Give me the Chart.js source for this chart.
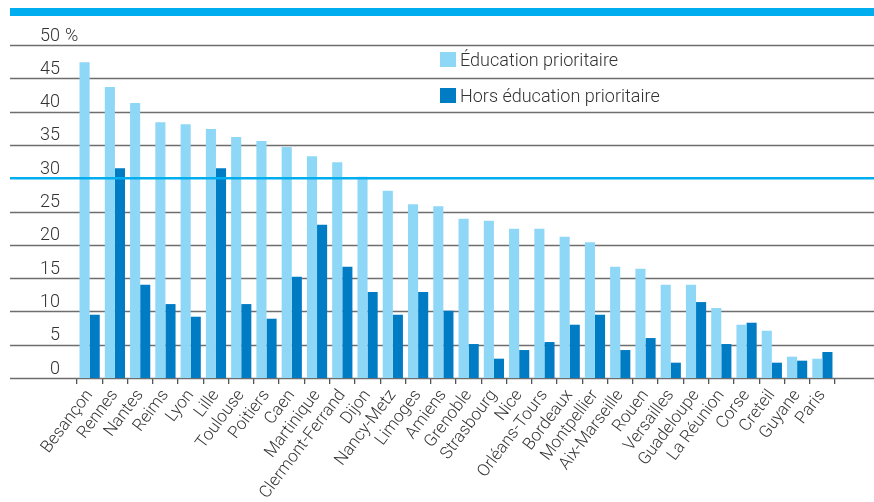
<!DOCTYPE html>
<html>
<head>
<meta charset="utf-8">
<script src="https://cdn.jsdelivr.net/npm/chart.js@4.4.1/dist/chart.umd.min.js"></script>
<style>
    html, body { margin: 0; padding: 0; background: #fff; }
    #wrap { position: relative; width: 874px; height: 502px; }
    #topBar { position: absolute; left: 10px; top: 8px; width: 864px; height: 8px; background: #00aeef; }
    #legend { position: absolute; left: 440px; top: 48px; font-family: Roboto, 'Liberation Sans', sans-serif; font-weight: 300; font-size: 18px; color: #333; }
    #legend div { display: flex; align-items: center; height: 22px; margin-bottom: 14px; }
    #legend span.box { display: inline-block; width: 16px; height: 15px; margin-right: 4px; }
</style>
</head>
<body>
<div id="wrap">
    <canvas id="chart" width="874" height="502"></canvas>
    <div id="topBar"></div>
    <div id="legend"></div>
</div>
<script>
/* Taux par académie : éducation prioritaire / hors éducation prioritaire */

const academies = ['Besançon', 'Rennes', 'Nantes', 'Reims', 'Lyon', 'Lille', 'Toulouse', 'Poitiers', 'Caen',
    'Martinique', 'Clermont-Ferrand', 'Dijon', 'Nancy-Metz', 'Limoges', 'Amiens', 'Grenoble', 'Strasbourg',
    'Nice', 'Orléans-Tours', 'Bordeaux', 'Montpellier', 'Aix-Marseille', 'Rouen', 'Versailles', 'Guadeloupe',
    'La Réunion', 'Corse', 'Creteil', 'Guyane', 'Paris'];

const educPrioritaire = [47.4, 43.7, 41.3, 38.4, 38.1, 37.4, 36.2, 35.6, 34.7, 33.3, 32.4, 30.2, 28.1, 26.1, 25.8,
    23.9, 23.6, 22.4, 22.4, 21.2, 20.4, 16.7, 16.4, 14.0, 14.0, 10.5, 8.0, 7.1, 3.2, 2.9];

const horsEducPrioritaire = [9.5, 31.5, 14.0, 11.1, 9.2, 31.5, 11.1, 8.9, 15.2, 23.0, 16.7, 12.9, 9.5, 12.9, 10.1,
    5.1, 2.9, 4.2, 5.4, 8.0, 9.5, 4.2, 6.0, 2.3, 11.4, 5.1, 8.3, 2.3, 2.6, 3.9];

const seriesNames = ['Éducation prioritaire', 'Hors éducation prioritaire'];
const seriesColors = ['#8ed7f7', '#007cc4'];

const yTicks = [0, 5, 10, 15, 20, 25, 30, 35, 40, 45, 50];
const highlightValue = 30;

const fontFamily = "Roboto, 'Liberation Sans', sans-serif";

// lignes horizontales sur toute la largeur + ligne bleue à 30 + signe %
const fullGrid = {
    id: 'fullGrid',
    beforeDatasetsDraw(chart) {
        const ctx = chart.ctx;
        const y = chart.scales.y;
        ctx.save();
        ctx.strokeStyle = '#6e6e6e';
        ctx.lineWidth = 1.4;
        yTicks.forEach(v => {
            if (v === highlightValue) return;
            const py = Math.round(y.getPixelForValue(v)) + 0.5;
            ctx.beginPath();
            ctx.moveTo(10, py);
            ctx.lineTo(chart.width, py);
            ctx.stroke();
        });
        ctx.restore();
    },
    afterDatasetsDraw(chart) {
        const ctx = chart.ctx;
        const y = chart.scales.y;
        ctx.save();
        const py = y.getPixelForValue(highlightValue);
        ctx.strokeStyle = '#00aeef';
        ctx.lineWidth = 2.5;
        ctx.beginPath();
        ctx.moveTo(10, py);
        ctx.lineTo(chart.width, py);
        ctx.stroke();

        ctx.fillStyle = '#333';
        ctx.font = '300 18px ' + fontFamily;
        ctx.textBaseline = 'middle';
        ctx.textAlign = 'left';
        ctx.fillText('%', 65, y.getPixelForValue(50) - 9);
        ctx.restore();
    }
};

const ctx = document.getElementById('chart').getContext('2d');

new Chart(ctx, {
    type: 'bar',
    data: {
        labels: academies,
        datasets: [{
            label: seriesNames[0],
            data: educPrioritaire,
            backgroundColor: seriesColors[0]
        }, {
            label: seriesNames[1],
            data: horsEducPrioritaire,
            backgroundColor: seriesColors[1]
        }]
    },
    options: {
        responsive: false,
        animation: false,
        layout: { padding: { left: 10, right: 39, top: 45, bottom: 0 } },
        datasets: {
            bar: { categoryPercentage: 0.8, barPercentage: 1.0 }
        },
        plugins: {
            legend: { display: false },
            tooltip: { enabled: false }
        },
        scales: {
            x: {
                afterFit: scale => { scale.height = 124; },
                grid: { offset: true, drawOnChartArea: false, drawTicks: true, tickLength: 6, color: '#555', lineWidth: 1.3 },
                border: { display: false },
                ticks: {
                    minRotation: 53,
                    maxRotation: 53,
                    autoSkip: false,
                    padding: 2,
                    color: '#333',
                    font: { family: fontFamily, size: 17, weight: 300 }
                }
            },
            y: {
                min: 0,
                max: 50,
                afterFit: scale => { scale.width = 67; },
                afterBuildTicks: scale => { scale.ticks = yTicks.map(v => ({ value: v })); },
                grid: { display: false, drawTicks: false },
                border: { display: false },
                ticks: {
                    padding: 17,
                    labelOffset: -9,
                    color: '#333',
                    font: { family: fontFamily, size: 18, weight: 300 }
                }
            }
        }
    },
    plugins: [fullGrid]
});

// légende HTML
const legendEl = document.getElementById('legend');
seriesNames.forEach((name, i) => {
    const row = document.createElement('div');
    const box = document.createElement('span');
    box.className = 'box';
    box.style.background = seriesColors[i];
    row.appendChild(box);
    row.appendChild(document.createTextNode(name));
    legendEl.appendChild(row);
});
</script>
</body>
</html>
